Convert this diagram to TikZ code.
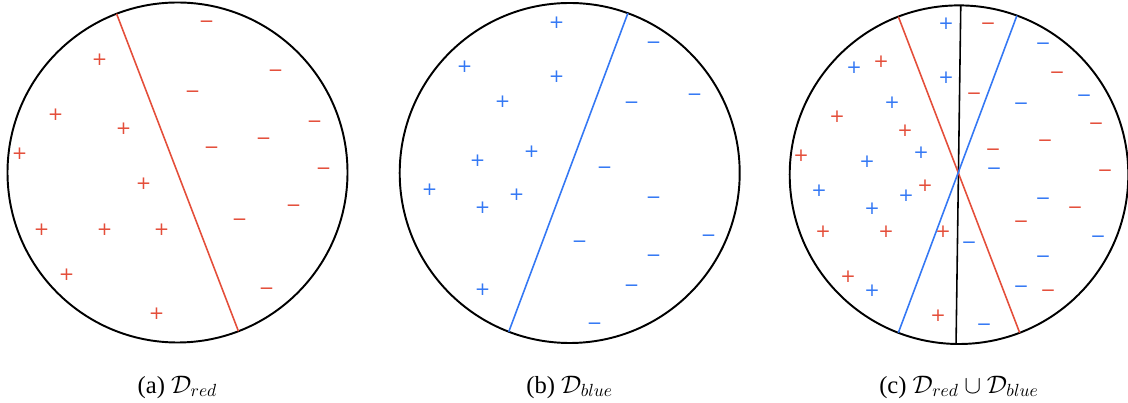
\documentclass[tikz,border=0pt]{standalone}
\usepackage{fontspec}
\setmainfont{Liberation Serif}
\newfontfamily\markfont{DejaVu Sans}
\usepackage{tikz}
\usetikzlibrary{calc}
\definecolor{setred}{RGB}{228,78,58}
\definecolor{setblue}{RGB}{52,120,244}
\tikzset{
  disk/.style={draw=black, line width=1.1pt},
  cut/.style={line width=0.9pt},
  redcut/.style={cut, draw=setred},
  bluecut/.style={cut, draw=setblue},
  blackcut/.style={cut, draw=black},
  sample/.style={inner sep=0pt, text height=0.6em, text depth=0pt,
                 font=\markfont\fontsize{10.5}{11}\selectfont},
  plusmark/.style={sample},
  minusmark/.style={sample},
  caption/.style={font=\fontsize{14}{16}\selectfont},
}
% samples, relative to the centre of the disk (1 unit = 1 px)
\def\redplus{-78/112, -122/57, -54/43, -158/18, -34/-12, -136/-58, -73/-58, -16/-58, -111/-103, -21/-142}
\def\redminus{29/150, 98/101, 15/80, 137/50, 86/33, 34/24, 146/3, 116/-34, 62/-48, 89/-117}
\def\blueplus{-13/150, -105/106, -13/96, -67/71, -38/21, -92/12, -140/-17, -53/-22, -87/-35, -87/-117}
\def\blueminus{84/130, 125/78, 62/70, 35/5, 84/-25, 139/-63, 10/-69, 84/-83, 62/-113, 25/-151}

\begin{document}
\begin{tikzpicture}[x=0.02cm, y=0.02cm]
  \useasboundingbox (0,0) rectangle (1128,402);
  \def\R{170}

  % (a) red samples
  \begin{scope}[shift={(177.5,229.5)}, name prefix=a-]
    \draw[disk] (0,0) circle[radius=\R];
    \draw[redcut] (111:\R) -- (291:\R);
    \foreach \x/\y [count=\i] in \redplus
      \node[plusmark, text=setred] (p\i) at (\x,\y) {+};
    \foreach \x/\y [count=\i] in \redminus
      \node[minusmark, text=setred] (m\i) at (\x,\y) {−};
  \end{scope}
  \node[caption] (capa) at (177.5,15) {(a) $\mathcal{D}_{red}$};

  % (b) blue samples
  \begin{scope}[shift={(569.7,229)}, name prefix=b-]
    \draw[disk] (0,0) circle[radius=\R];
    \draw[bluecut] (70:\R) -- (249:\R);
    \foreach \x/\y [count=\i] in \blueplus
      \node[plusmark, text=setblue] (p\i) at (\x,\y) {+};
    \foreach \x/\y [count=\i] in \blueminus
      \node[minusmark, text=setblue] (m\i) at (\x,\y) {−};
  \end{scope}
  \node[caption] (capb) at (569.7,15) {(b) $\mathcal{D}_{blue}$};

  % (c) both sets together
  \begin{scope}[shift={(959,227.3)}, name prefix=c-]
    \draw[disk] (0,0) circle[radius=169.3];
    \draw[blackcut] (89.4:169.3) -- (269:169.3);
    \draw[redcut] (111:169.3) -- (291:169.3);
    \draw[bluecut] (70:169.3) -- (249:169.3);
    \foreach \x/\y [count=\i] in \redplus
      \node[plusmark, text=setred] (rp\i) at (\x,\y) {+};
    \foreach \x/\y [count=\i] in \redminus
      \node[minusmark, text=setred] (rm\i) at (\x,\y) {−};
    \foreach \x/\y [count=\i] in \blueplus
      \node[plusmark, text=setblue] (bp\i) at (\x,\y) {+};
    \foreach \x/\y [count=\i] in \blueminus
      \node[minusmark, text=setblue] (bm\i) at (\x,\y) {−};
  \end{scope}
  \node[caption] (capc) at (959,15) {(c) $\mathcal{D}_{red}\cup\mathcal{D}_{blue}$};
\end{tikzpicture}
\end{document}
